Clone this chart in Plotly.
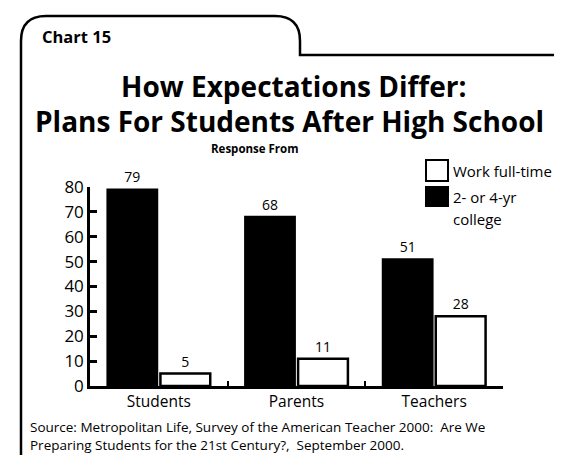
import plotly.graph_objects as go

# ---- data ----
categories = ["Students", "Parents", "Teachers"]
college = [79, 68, 51]
work_full_time = [5, 11, 28]
series_names = ["2- or 4-yr college", "Work full-time"]
y_ticks = [0, 10, 20, 30, 40, 50, 60, 70, 80]

# ---- geometry helpers (figure pixels -> paper coords) ----
W, H = 562, 455
L, R, T, B = 82, 67, 179, 77
PW, PH = W - L - R, H - T - B


def px(x):
    return (x - L) / PW


def py(y):
    return (H - B - y) / PH


FONT = "Open Sans, Noto Sans, sans-serif"

fig = go.Figure()
fig.add_trace(go.Bar(
    x=categories, y=college, name=series_names[0],
    marker=dict(color="black", line=dict(color="black", width=2)),
    text=[str(v) for v in college], textposition="outside",
    textfont=dict(size=14, color="black", family=FONT),
    cliponaxis=False, showlegend=False,
))
fig.add_trace(go.Bar(
    x=categories, y=work_full_time, name=series_names[1],
    marker=dict(color="white", line=dict(color="black", width=2.5)),
    text=[str(v) for v in work_full_time], textposition="outside",
    textfont=dict(size=14, color="black", family=FONT),
    cliponaxis=False, showlegend=False,
))

fig.update_layout(
    width=W, height=H,
    margin=dict(l=L, r=R, t=T, b=B, pad=0),
    paper_bgcolor="white", plot_bgcolor="white",
    barmode="group", bargap=0.23, bargroupgap=0.06,
    font=dict(family=FONT, color="black"),
    showlegend=False,
    xaxis=dict(
        showline=True, linewidth=2.5, linecolor="black",
        ticks="inside", tickson="boundaries", ticklen=5, tickwidth=2,
        tickcolor="black", showgrid=False, zeroline=False,
        ticklabelstandoff=0,
        tickfont=dict(size=15.5, family=FONT, color="black"),
    ),
    yaxis=dict(
        range=[0, 80], tickvals=y_ticks,
        showline=True, linewidth=2.5, linecolor="black",
        ticks="inside", ticklen=7, tickwidth=2.5, tickcolor="black",
        showgrid=False, zeroline=False,
        tickfont=dict(size=17, family=FONT, color="black"),
    ),
)

# frame with tab
r = 25
TAB_X = 292
frame = (f"M {px(13)},{py(H + 5)} L {px(13)},{py(8 + r)} "
         f"Q {px(13)},{py(8)} {px(13 + r)},{py(8)} "
         f"L {px(TAB_X - r)},{py(8)} Q {px(TAB_X)},{py(8)} {px(TAB_X)},{py(8 + r)} "
         f"L {px(TAB_X)},{py(47)} L {px(W + 5)},{py(47)}")
fig.add_shape(type="path", path=frame, xref="paper", yref="paper",
              line=dict(color="black", width=2.5))

# legend boxes
fig.add_shape(type="rect", xref="paper", yref="paper",
              x0=px(418), x1=px(440), y0=py(152), y1=py(173),
              line=dict(color="black", width=2), fillcolor="white")
fig.add_shape(type="rect", xref="paper", yref="paper",
              x0=px(418), x1=px(440), y0=py(179), y1=py(198),
              line=dict(color="black", width=2), fillcolor="black")


def note(text, x, y, size, bold=False, xanchor="center"):
    fig.add_annotation(
        text=f"<b>{text}</b>" if bold else text,
        x=px(x), y=py(y), xref="paper", yref="paper",
        xanchor=xanchor, yanchor="middle", showarrow=False,
        font=dict(size=size, family=FONT, color="black"),
    )


note("Chart 15", 32, 28, 16.5, bold=True, xanchor="left")
note("How Expectations Differ:", 285, 78, 28, bold=True)
note("Plans For Students After High School", 281, 113, 28, bold=True)
note("Response From", 247, 140, 11.5, bold=True)
note(series_names[1], 443, 163, 15, xanchor="left")
note("2- or 4-yr", 443, 189, 15, xanchor="left")
note("college", 443, 211, 15, xanchor="left")
note("Source: Metropolitan Life, Survey of the American Teacher 2000:  Are We",
     20, 419, 13.5, xanchor="left")
note("Preparing Students for the 21st Century?,  September 2000.",
     20, 437, 13.5, xanchor="left")

fig.write_html("out.html")
